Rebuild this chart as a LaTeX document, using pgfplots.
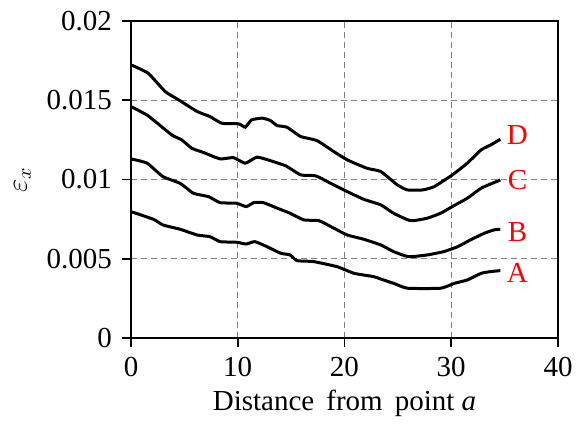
\documentclass[border=0pt]{standalone}
\usepackage{pgfplots}
\pgfplotsset{compat=1.18}
\usepackage{fontspec}
\setmainfont{Liberation Serif}
\begin{document}
\fontsize{14.5}{17}\selectfont
\begin{tikzpicture}
\useasboundingbox (-65.5pt,-47pt) rectangle (222.5pt,169pt);
\begin{axis}[
  at={(0,0)}, anchor=south west,
  scale only axis, width=213.5pt, height=158.5pt,
  xmin=0, xmax=40, ymin=0, ymax=0.02,
  xtick={0,10,20,30,40},
  ytick={0,0.005,0.01,0.015,0.02},
  yticklabels={0,0.005,0.01,0.015,0.02},
  /pgf/number format/assume math mode=true,
  tick align=outside, tick pos=left,
  major tick length=4.5pt,
  tick style={black, line width=0.9pt},
  axis line style={black, line width=0.9pt},
  grid=major,
  major grid style={gray, line width=0.6pt, dash pattern=on 3pt off 2pt},
  scaled y ticks=false,
  xlabel={Distance\, from\, point \textit{a}},
  ylabel={$\varepsilon_x$},
  xlabel style={yshift=3pt},
  ylabel style={yshift=-2pt},
  every tick label/.append style={font=\fontsize{14.5}{17}\selectfont},
  clip=false,
]
% D
\addplot[black, line width=1.5pt, smooth, tension=0.3] coordinates {
(0,0.01723)(1.6,0.01671)(3.2,0.01555)(4.45,0.01503)(6.2,0.01429)(7.4,0.01397)(8.5,0.01355)(10.1,0.01351)(10.7,0.0133)(11.3,0.01376)(12.3,0.01387)(13.05,0.01372)(13.7,0.0134)(14.6,0.0133)(15.9,0.01271)(17.4,0.01246)(19.0,0.01176)(20.25,0.01124)(22.1,0.01071)(23.4,0.0105)(24.95,0.00966)(25.9,0.00934)(27.3,0.00934)(28.4,0.00955)(30.1,0.01029)(31.5,0.01103)(32.8,0.01187)(33.7,0.01218)(34.6,0.01254)};
% C
\addplot[black, line width=1.5pt, smooth, tension=0.3] coordinates {
(0,0.0146)(1.6,0.01402)(3.8,0.01282)(4.75,0.0125)(5.7,0.01197)(6.8,0.0117)(8.35,0.0113)(9.6,0.01138)(10.7,0.01103)(11.8,0.01141)(13.05,0.01119)(14.5,0.01086)(15.9,0.01029)(17.3,0.01023)(18.7,0.00976)(20.25,0.00924)(21.8,0.00875)(23.4,0.0084)(24.6,0.00787)(26.2,0.0074)(27.75,0.00756)(29.0,0.00787)(30.1,0.00829)(31.5,0.00882)(32.8,0.00945)(33.7,0.00972)(34.6,0.00997)};
% B
\addplot[black, line width=1.5pt, smooth, tension=0.3] coordinates {
(0,0.0113)(1.5,0.01103)(3.0,0.01018)(4.6,0.00976)(5.85,0.00913)(7.25,0.00892)(8.35,0.00854)(9.9,0.0085)(10.8,0.00829)(11.5,0.00854)(12.4,0.00854)(13.7,0.00819)(14.9,0.00787)(16.2,0.00745)(17.6,0.0074)(19.0,0.00693)(20.25,0.0065)(21.8,0.00623)(23.4,0.00587)(24.6,0.00545)(26.0,0.00513)(27.75,0.00524)(29.3,0.00545)(30.6,0.00576)(31.8,0.00619)(33.1,0.00661)(34.0,0.00682)(34.6,0.00686)};
% A
\addplot[black, line width=1.5pt, smooth, tension=0.3] coordinates {
(0,0.00797)(2.1,0.00749)(3.0,0.00713)(4.6,0.00686)(6.2,0.0065)(7.4,0.00639)(8.35,0.00608)(9.9,0.00604)(10.8,0.00593)(11.6,0.00608)(12.75,0.00576)(14.0,0.00535)(14.9,0.00524)(15.55,0.00488)(17.1,0.00482)(19.3,0.0045)(20.9,0.00408)(22.75,0.00387)(23.4,0.00372)(24.6,0.00345)(25.9,0.00314)(29.0,0.00314)(30.3,0.00345)(31.5,0.00366)(32.8,0.00408)(33.7,0.00419)(34.6,0.00425)};
\node[red] at (axis cs:36.2,0.0128) {D};
\node[red] at (axis cs:36.2,0.00997) {C};
\node[red] at (axis cs:36.2,0.0067) {B};
\node[red] at (axis cs:36.2,0.00408) {A};
\end{axis}
\end{tikzpicture}
\end{document}
